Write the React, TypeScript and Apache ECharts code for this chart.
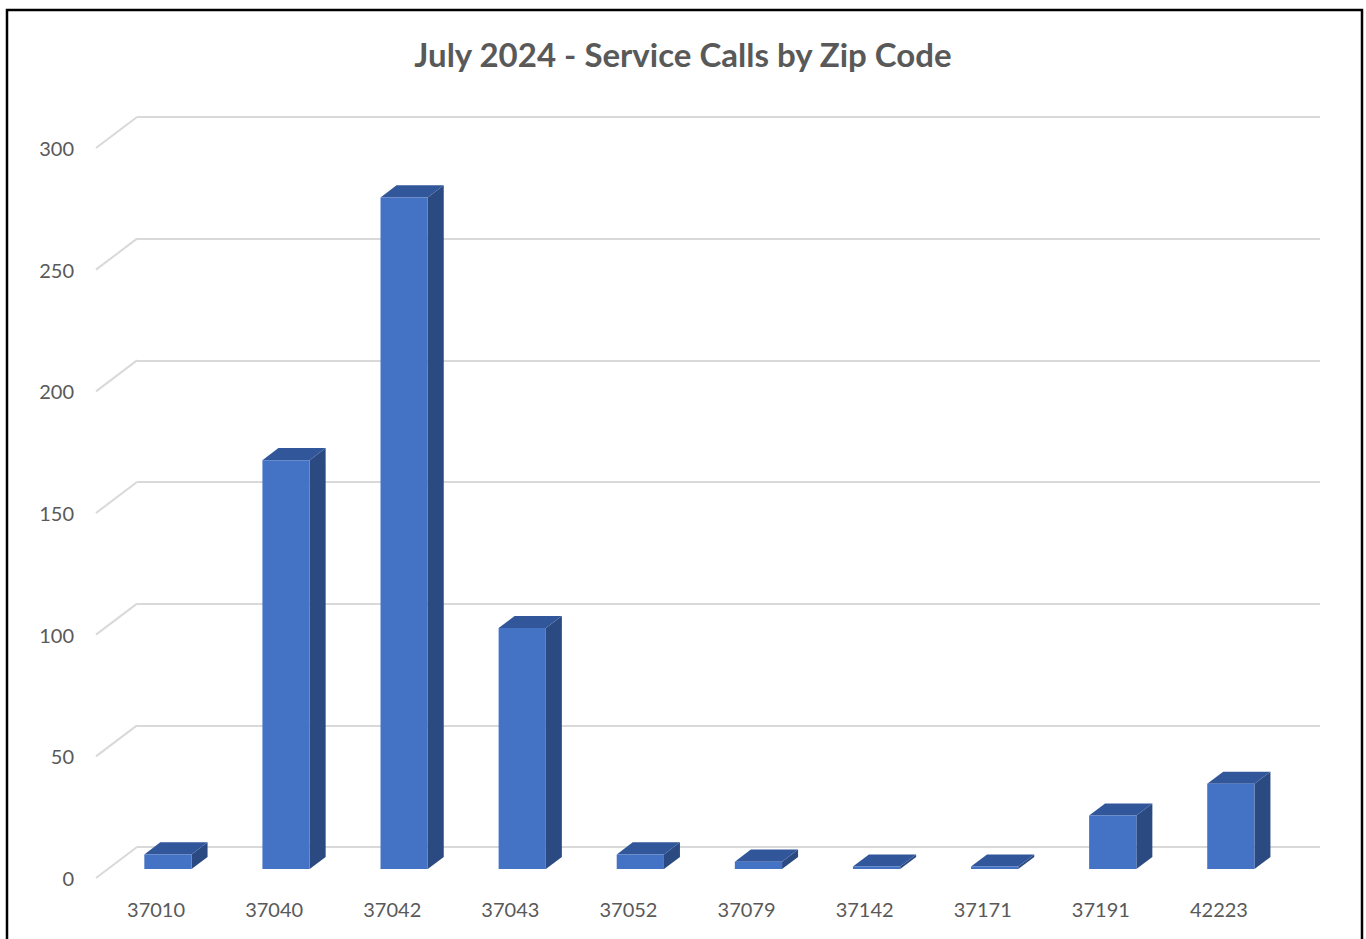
import React, { useEffect, useRef } from "react";
import * as echarts from "echarts";

const categories = ["37010", "37040", "37042", "37043", "37052", "37079", "37142", "37171", "37191", "42223"];
const calls = [6, 168, 276, 99, 6, 3, 1, 1, 22, 35];
const yTicks = [0, 50, 100, 150, 200, 250, 300];
const titleText = "July 2024 - Service Calls by Zip Code";

const DX = 41;
const DY = -31;

export default function App() {
  const ref = useRef<HTMLDivElement>(null);
  useEffect(() => {
    if (!ref.current) return;
    const chart = echarts.init(ref.current, null, { renderer: "svg" });
    const font = "Lato, 'Noto Sans', sans-serif";
    chart.setOption({
      animation: false,
      backgroundColor: "#ffffff",
      title: {
        text: titleText,
        left: "center",
        top: 32,
        textStyle: { fontFamily: font, fontSize: 33, fontWeight: "bold", color: "#595959" },
      },
      graphic: [
        {
          type: "rect",
          shape: { x: 7, y: 10, width: 1355, height: 960 },
          style: { fill: "none", stroke: "#000000", lineWidth: 2.5 },
          z: 100,
        },
      ],
      grid: [
        { left: 97, right: 88, top: 148, bottom: 61 },
        { left: 137, right: 46, top: 117, bottom: 92 },
      ],
      xAxis: [
        {
          type: "category",
          gridIndex: 0,
          data: categories,
          axisLine: { show: false },
          axisTick: { show: false },
          axisLabel: { margin: 21, fontFamily: font, fontSize: 20, color: "#595959" },
        },
        {
          type: "category",
          gridIndex: 1,
          data: categories,
          show: false,
        },
      ],
      yAxis: [
        {
          type: "value",
          gridIndex: 0,
          min: 0,
          max: 300,
          interval: 50,
          axisLine: { show: false },
          axisTick: { show: false },
          splitLine: { show: false },
          axisLabel: { margin: 23, fontFamily: font, fontSize: 20, color: "#595959" },
        },
        {
          type: "value",
          gridIndex: 1,
          min: 0,
          max: 300,
          interval: 50,
          axisLine: { show: false },
          axisTick: { show: false },
          axisLabel: { show: false },
          splitLine: { show: true, lineStyle: { color: "#d9d9d9", width: 2 } },
        },
      ],
      series: [
        {
          type: "custom",
          xAxisIndex: 0,
          yAxisIndex: 0,
          z: 1,
          silent: true,
          data: yTicks.map((v) => [0, v]),
          renderItem: (params: any, api: any) => {
            const p = api.coord([0, api.value(1)]);
            const left = p[0] - api.size([1, 0])[0] / 2;
            return {
              type: "line",
              shape: { x1: left - 1, y1: p[1], x2: left + DX - 1, y2: p[1] + DY },
              style: { stroke: "#d9d9d9", lineWidth: 2 },
            };
          },
        },
        {
          type: "custom",
          xAxisIndex: 0,
          yAxisIndex: 0,
          z: 5,
          data: calls.map((v, i) => [i, v]),
          renderItem: (params: any, api: any) => {
            const i = api.value(0);
            const base = api.coord([i, 0]);
            const top = api.coord([i, api.value(1)]);
            const band = api.size([1, 0])[0];
            const bw = band * 0.4;
            const f = 0.29;
            const d = 0.39;
            const x0 = base[0] - bw / 2 + f * DX;
            const x1 = x0 + bw;
            const yb = base[1] + f * DY;
            const yt = top[1] + f * DY;
            const ddx = d * DX;
            const ddy = d * DY;
            return {
              type: "group",
              children: [
                {
                  type: "polygon",
                  shape: { points: [[x1, yt], [x1 + ddx, yt + ddy], [x1 + ddx, yb + ddy], [x1, yb]] },
                  style: { fill: "#2B4A82" },
                },
                {
                  type: "polygon",
                  shape: { points: [[x0, yt], [x1, yt], [x1 + ddx, yt + ddy], [x0 + ddx, yt + ddy]] },
                  style: { fill: "#31579A" },
                },
                {
                  type: "rect",
                  shape: { x: x0, y: yt, width: bw, height: yb - yt },
                  style: { fill: "#4472C4" },
                },
              ],
            };
          },
        },
      ],
    });
    return () => chart.dispose();
  }, []);
  return (
    <div
      ref={ref}
      style={{ position: "fixed", left: 0, top: 0, width: 1366, height: 939, background: "#fff" }}
    />
  );
}
